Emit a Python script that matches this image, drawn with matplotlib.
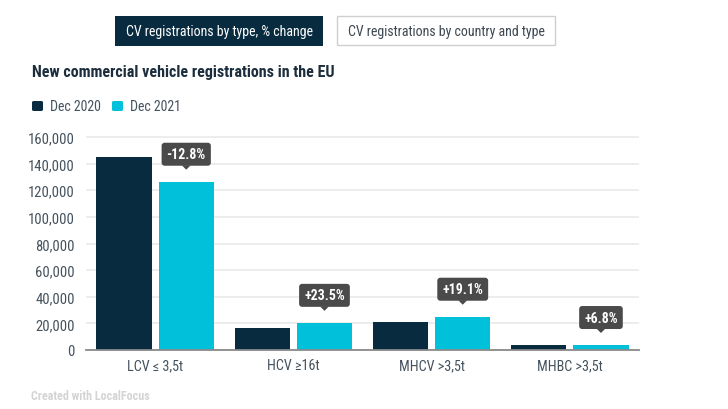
import matplotlib.pyplot as plt
import matplotlib.patches as mpatches
from matplotlib.transforms import ScaledTranslation
from matplotlib.ticker import FuncFormatter
import numpy as np

plt.rcParams['font.family'] = ['Roboto Condensed', 'Roboto', 'DejaVu Sans']

# data
categories = ["LCV ≤ 3,5t", "HCV ≥16t", "MHCV >3,5t", "MHBC >3,5t"]
dec_2020 = [145000, 16500, 21000, 3500]
dec_2021 = [126400, 20400, 25000, 3740]
pct_change = ["-12.8%", "+23.5%", "+19.1%", "+6.8%"]
y_ticks = [0, 20000, 40000, 60000, 80000, 100000, 120000, 140000, 160000]

NAVY = "#082b40"
CYAN = "#00c1d9"
TIP = "#4a4a4a"
W, H = 728, 410


def fx(px):
    return px / W


def fy(py):
    return 1 - py / H


fig = plt.figure(figsize=(W / 100, H / 100), dpi=100)

ymax = 161000
top_px = 351 - ymax / 1000 * 1.33125
ax = fig.add_axes([fx(86), fy(351), fx(639) - fx(86), fy(top_px) - fy(351)])

x = np.arange(len(categories))
bw = 0.4
off = 0.225
ax.bar(x - off, dec_2020, bw, color=NAVY, zorder=3)
ax.bar(x + off, dec_2021, bw, color=CYAN, zorder=3)

ax.set_xlim(-0.5, len(categories) - 0.5)
ax.set_ylim(0, ymax)
ax.set_yticks(y_ticks)
ax.yaxis.set_major_formatter(FuncFormatter(lambda v, p: f"{int(v):,}"))
ax.set_xticks(x)
ax.set_xticklabels(categories)
ax.tick_params(axis="both", length=0, colors="#44525e")
ax.tick_params(axis="y", pad=8, labelsize=10.5)
ax.tick_params(axis="x", pad=6, labelsize=10.2)
ax.grid(axis="y", color="#ececec", linewidth=1.3, zorder=0)
for s in ["top", "right", "left"]:
    ax.spines[s].set_visible(False)
ax.spines["bottom"].set_color("#8a8a8a")
ax.spines["bottom"].set_linewidth(1.3)
ax.spines["bottom"].set_zorder(4)

# % change callouts over the Dec 2021 bars (offsets in pixels / 100 = inches)
fig.canvas.draw()
renderer = fig.canvas.get_renderer()
for i, (v, lab) in enumerate(zip(dec_2021, pct_change)):
    xi = x[i] + off
    tr = fig.dpi_scale_trans + ScaledTranslation(xi, v, ax.transData)
    t = ax.text(0, 0.275, lab, transform=tr, ha="center", va="center",
                color="white", fontsize=10, fontweight="bold", zorder=7)
    tw = t.get_window_extent(renderer).width
    bw_px = tw + 10
    box = mpatches.FancyBboxPatch((-bw_px / 200, 0.16), bw_px / 100, 0.23,
                                  boxstyle="round,pad=0,rounding_size=0.03",
                                  transform=tr, fc=TIP, ec="none", zorder=6, clip_on=False)
    ax.add_patch(box)
    ax.add_patch(mpatches.Polygon([(-0.045, 0.165), (0.045, 0.165), (0, 0.12)],
                                  closed=True, transform=tr, fc=TIP, ec="none",
                                  zorder=6, clip_on=False))

# tab buttons
fig.patches.append(mpatches.Rectangle((fx(115), fy(47)), fx(323) - fx(115), fy(17) - fy(47),
                                      transform=fig.transFigure, fc=NAVY, ec="none"))
fig.text(fx(219), fy(32), "CV registrations by type, % change", ha="center", va="center",
         color="white", fontsize=10)
fig.patches.append(mpatches.Rectangle((fx(337), fy(46)), fx(555) - fx(337), fy(17) - fy(46),
                                      transform=fig.transFigure, fc="white", ec="#cfcfcf", lw=1))
fig.text(fx(446), fy(32), "CV registrations by country and type", ha="center", va="center",
         color="#3d4852", fontsize=10)

# title
fig.text(fx(32), fy(73), "New commercial vehicle registrations in the EU", ha="left",
         va="center", color="#1c2e3d", fontsize=11.5, fontweight="bold")

# legend
for x0, col, lab in [(32, NAVY, "Dec 2020"), (112, CYAN, "Dec 2021")]:
    fig.patches.append(mpatches.FancyBboxPatch((fx(x0), fy(112)), fx(11), fy(102) - fy(112),
                                               boxstyle="round,pad=0,rounding_size=0.003",
                                               transform=fig.transFigure, fc=col, ec="none"))
    fig.text(fx(x0 + 18), fy(107), lab, ha="left", va="center", color="#44525e", fontsize=10)

fig.text(fx(31), fy(397), "Created with LocalFocus", ha="left", va="center",
         color="#d4d4d4", fontsize=8.7, fontweight="bold")

fig.savefig("out.png", dpi=100)
